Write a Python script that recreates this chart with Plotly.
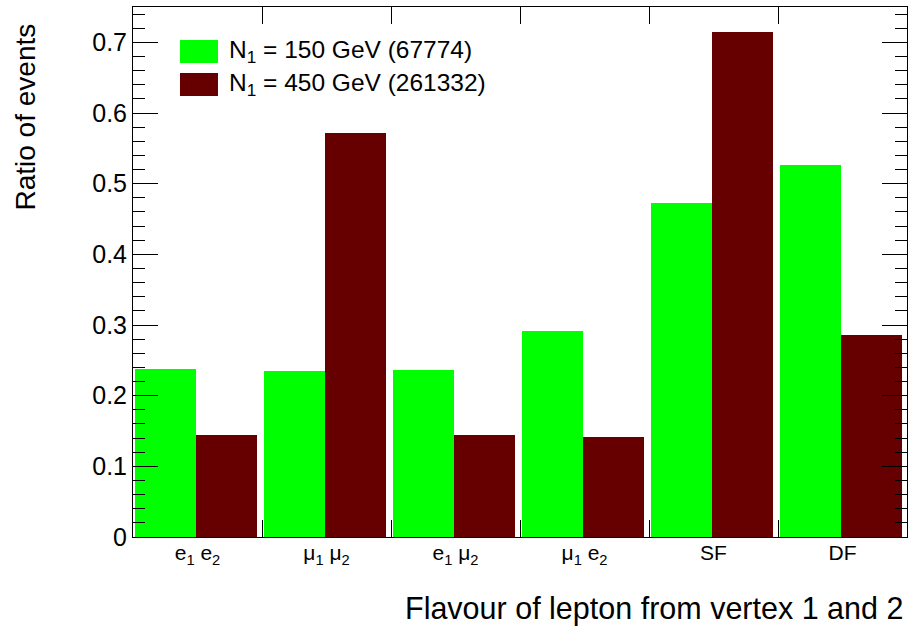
import plotly.graph_objects as go

# Lepton-flavour categories (vertex 1, vertex 2)
categories = [
    "e<sub>1</sub> e<sub>2</sub>",
    "μ<sub>1</sub> μ<sub>2</sub>",
    "e<sub>1</sub> μ<sub>2</sub>",
    "μ<sub>1</sub> e<sub>2</sub>",
    "SF",
    "DF",
]
# Fraction of events per category
ratio_150 = [0.238, 0.235, 0.236, 0.291, 0.473, 0.527]
ratio_450 = [0.144, 0.571, 0.144, 0.142, 0.715, 0.286]

legend_labels = [
    "N<sub>1</sub> = 150 GeV (67774)",
    "N<sub>1</sub> = 450 GeV (261332)",
]
colors = ["#00ff00", "#660000"]

FONT = "Liberation Sans, Arial, Helvetica, sans-serif"
bins = list(range(len(categories)))

fig = go.Figure()
fig.add_trace(go.Bar(x=bins, y=ratio_150, offset=0.015, width=0.475,
                     marker=dict(color=colors[0], line=dict(width=0)),
                     name="N1 = 150 GeV", showlegend=False))
fig.add_trace(go.Bar(x=bins, y=ratio_450, offset=0.49, width=0.475,
                     marker=dict(color=colors[1], line=dict(width=0)),
                     name="N1 = 450 GeV", showlegend=False))

# Hand-drawn legend with wide colour boxes
box_x0, box_x1 = 0.0607, 0.1098
rows = [(0.8943, 0.9377), (0.8321, 0.8755)]
for (y0, y1), col, lab in zip(rows, colors, legend_labels):
    fig.add_shape(type="rect", xref="paper", yref="paper",
                  x0=box_x0, x1=box_x1, y0=y0, y1=y1,
                  fillcolor=col, line=dict(width=0), layer="above")
    fig.add_annotation(xref="paper", yref="paper", x=0.1214, y=(y0 + y1) / 2,
                       text=lab, showarrow=False, xanchor="left", yanchor="middle",
                       font=dict(family=FONT, size=24.5, color="black"))

# Axis titles
fig.add_annotation(xref="paper", yref="paper", x=0.9974, y=-0.134,
                   text="Flavour of lepton from vertex 1 and 2", showarrow=False,
                   xanchor="right", yanchor="middle",
                   font=dict(family=FONT, size=30.5, color="black"))
fig.add_annotation(xref="paper", yref="paper", x=-0.1395, y=0.7915,
                   text="Ratio of events", showarrow=False, textangle=-90,
                   xanchor="center", yanchor="middle",
                   font=dict(family=FONT, size=28, color="black"))

fig.update_layout(
    width=911, height=627,
    margin=dict(l=133, r=4, t=7, b=90),
    paper_bgcolor="white", plot_bgcolor="white",
    barmode="overlay", bargap=0,
    font=dict(family=FONT, color="black"),
    showlegend=False,
)
fig.update_xaxes(
    range=[0, len(categories)],
    tickmode="array",
    tickvals=[b + 0.5 for b in bins],
    ticktext=categories,
    ticks="",
    ticklabelstandoff=-3,
    tickfont=dict(family=FONT, size=21),
    showgrid=False, zeroline=False,
    showline=True, linecolor="black", linewidth=1, mirror="ticks",
    minor=dict(tickmode="array", tickvals=bins[1:], ticks="inside",
               ticklen=17, tickcolor="black", tickwidth=1, showgrid=False),
)
fig.update_yaxes(
    range=[0, 0.75],
    tickmode="array",
    tickvals=[0, 0.1, 0.2, 0.3, 0.4, 0.5, 0.6, 0.7],
    ticktext=["0", "0.1", "0.2", "0.3", "0.4", "0.5", "0.6", "0.7"],
    ticks="inside", ticklen=25, tickcolor="black", tickwidth=1,
    tickfont=dict(family=FONT, size=25),
    showgrid=False, zeroline=False,
    showline=True, linecolor="black", linewidth=1, mirror="ticks",
    minor=dict(dtick=0.02, tick0=0, ticks="inside", ticklen=12,
               tickcolor="black", tickwidth=1, showgrid=False),
)

fig.write_html("out.html")
